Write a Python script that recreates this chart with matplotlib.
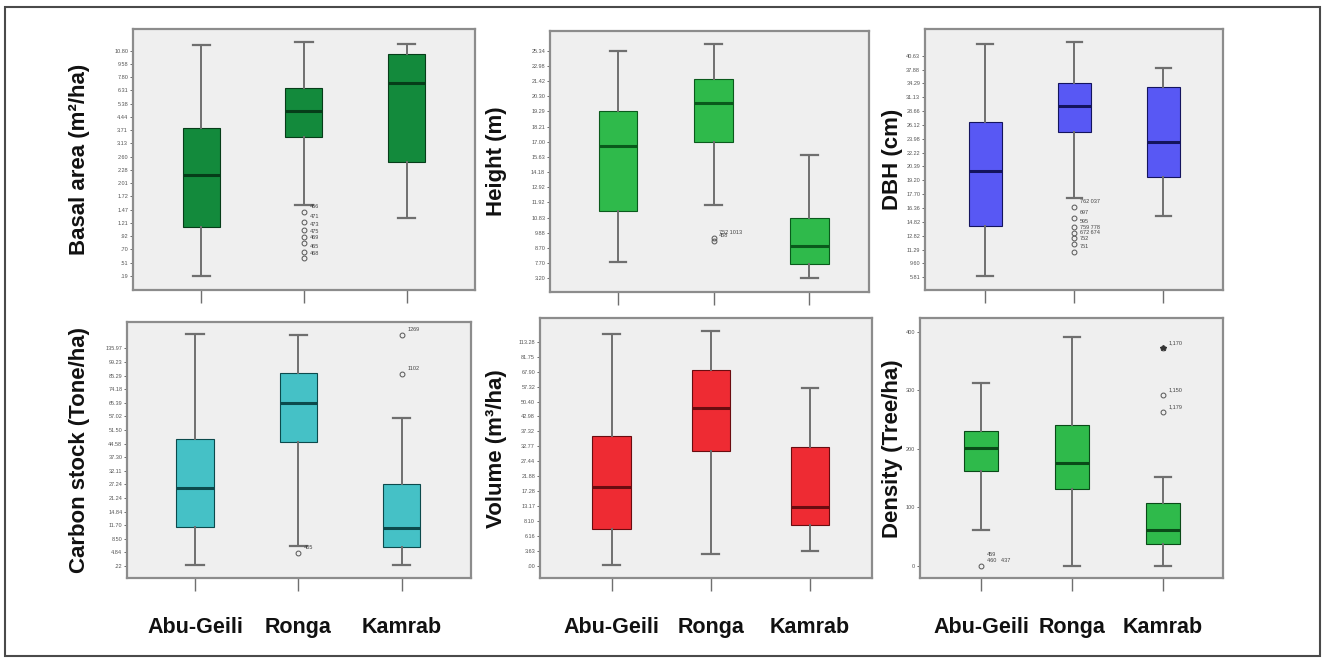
import matplotlib.pyplot as plt
from matplotlib.patches import Rectangle

plt.rcParams['font.family'] = ['Liberation Sans', 'DejaVu Sans']

sites = ["Abu-Geili", "Ronga", "Kamrab"]

# SPSS axes: ticks evenly spaced with irregular labels, so values are given in tick steps
basal_ticks = [".19", ".51", ".70", ".92", "1.21", "1.47", "1.72", "2.01", "2.28",
               "2.60", "3.13", "3.71", "4.44", "5.38", "6.31", "7.80", "9.58", "10.80"]
basal_lo = [0.02, 5.36, 4.40]
basal_q1 = [3.67, 10.51, 8.63]
basal_med = [7.65, 12.45, 14.54]
basal_q3 = [11.19, 14.16, 16.73]
basal_hi = [17.46, 17.68, 17.49]
basal_out = [[], [4.85, 4.10, 3.47, 2.97, 2.47, 1.83, 1.33], []]
basal_out_lab = [[], ["466", "471", "473", "475", "469", "465", "468"], []]

height_ticks = ["3.20", "7.70", "8.70", "9.88", "10.83", "11.92", "12.92", "14.18",
                "15.63", "17.00", "18.21", "19.29", "20.30", "21.42", "22.98", "25.34"]
height_lo = [1.09, 4.83, 0.00]
height_q1 = [4.44, 9.00, 0.96]
height_med = [8.72, 11.54, 2.15]
height_q3 = [11.03, 13.12, 4.00]
height_hi = [14.98, 15.43, 8.13]
height_out = [[], [2.65, 2.45], []]
height_out_lab = [[], ["752 1013", "458"], []]

dbh_ticks = ["5.81", "9.60", "11.29", "12.82", "14.82", "16.36", "17.70", "19.20", "20.39",
             "22.22", "23.98", "26.12", "28.66", "31.13", "34.29", "37.88", "40.63"]
dbh_lo = [0.12, 5.75, 4.43]
dbh_q1 = [3.70, 10.47, 7.26]
dbh_med = [7.68, 12.37, 9.79]
dbh_q3 = [11.19, 14.00, 13.72]
dbh_hi = [16.82, 17.01, 15.09]
dbh_out = [[], [5.10, 4.26, 3.65, 3.18, 2.82, 2.38, 1.85], []]
dbh_out_lab = [[], ["762 037", "697", "595", "759 778", "672 674", "752", "751"], []]

carbon_ticks = [".22", "4.84", "8.50", "11.70", "14.84", "21.24", "27.24", "32.11", "37.30",
                "44.58", "51.50", "57.02", "65.39", "74.18", "85.29", "99.23", "135.97"]
carbon_lo = [0.07, 1.47, 0.07]
carbon_q1 = [2.89, 9.09, 1.37]
carbon_med = [5.71, 11.96, 2.77]
carbon_q3 = [9.34, 14.17, 6.00]
carbon_hi = [17.06, 16.99, 10.90]
carbon_out = [[], [0.98], [16.99, 14.12]]
carbon_out_lab = [[], ["405"], ["1269", "1102"]]

volume_ticks = [".00", "3.63", "6.16", "8.10", "13.17", "17.28", "21.88", "27.44",
                "32.77", "37.32", "42.98", "50.40", "57.32", "67.90", "81.75", "113.28"]
volume_lo = [0.07, 0.78, 1.02]
volume_q1 = [2.45, 7.71, 2.74]
volume_med = [5.30, 10.59, 3.93]
volume_q3 = [8.70, 13.11, 7.94]
volume_hi = [15.52, 15.74, 11.89]

density_ticks = ["0", "100", "200", "300", "400"]
density_lo = [61, 0, 0]
density_q1 = [161, 131, 37]
density_med = [202, 176, 61]
density_q3 = [231, 240, 107]
density_hi = [312, 391, 151]
density_out = [[0], [], [372, 292, 262]]
density_out_lab = [["459\n460   437"], [], ["1,170", "1,150", "1,179"]]


def stats_of(lo, q1, med, q3, hi, out=None):
    rows = []
    for i in range(len(lo)):
        rows.append(dict(whislo=lo[i], q1=q1[i], med=med[i], q3=q3[i], whishi=hi[i],
                         fliers=(out[i] if out else [])))
    return rows


panels = [
    dict(pos=[0.1002, 0.5633, 0.2577, 0.3931], xlim=(0.333, 3.667), ylim=(-1.06, 18.64),
         ticks=basal_ticks, stats=stats_of(basal_lo, basal_q1, basal_med, basal_q3, basal_hi, basal_out),
         labels=basal_out_lab, face="#138a3c", med="#063d19", width=0.36,
         ylabel="Basal area (m²/ha)", labx=-0.126),
    dict(pos=[0.4145, 0.5607, 0.2404, 0.3926], xlim=(0.293, 3.623), ylim=(-0.88, 16.30),
         ticks=height_ticks, stats=stats_of(height_lo, height_q1, height_med, height_q3, height_hi, height_out),
         labels=height_out_lab, face="#2fba4b", med="#0a5a1c", width=0.40,
         ylabel="Height (m)", labx=-0.135),
    dict(pos=[0.6971, 0.5633, 0.2248, 0.3931], xlim=(0.327, 3.673), ylim=(-0.92, 17.93),
         ticks=dbh_ticks, stats=stats_of(dbh_lo, dbh_q1, dbh_med, dbh_q3, dbh_hi, dbh_out),
         labels=dbh_out_lab, face="#5858f4", med="#14145e", width=0.37,
         ylabel="DBH (cm)", labx=-0.074),
    dict(pos=[0.0959, 0.1291, 0.2588, 0.3864], xlim=(0.345, 3.668), ylim=(-0.90, 17.96),
         ticks=carbon_ticks, stats=stats_of(carbon_lo, carbon_q1, carbon_med, carbon_q3, carbon_hi, carbon_out),
         labels=carbon_out_lab, face="#45c1c6", med="#0c4a4c", width=0.36,
         ylabel="Carbon stock (Tone/ha)", labx=-0.108),
    dict(pos=[0.4069, 0.1291, 0.2500, 0.3916], xlim=(0.277, 3.622), ylim=(-0.82, 16.57),
         ticks=volume_ticks, stats=stats_of(volume_lo, volume_q1, volume_med, volume_q3, volume_hi),
         labels=[[], [], []], face="#ee2b33", med="#6a0c10", width=0.39,
         ylabel="Volume (m³/ha)", labx=-0.100),
    dict(pos=[0.6933, 0.1291, 0.2286, 0.3916], xlim=(0.328, 3.664), ylim=(-21.5, 422.9),
         ticks=density_ticks, stats=stats_of(density_lo, density_q1, density_med, density_q3, density_hi, density_out),
         labels=density_out_lab, face="#2fba4b", med="#0a4a18", width=0.37,
         ylabel="Density (Tree/ha)", labx=-0.056),
]

fig = plt.figure(figsize=(13.27, 6.64), dpi=100)
fig.patches.append(Rectangle((0.004, 0.012), 0.991, 0.978, transform=fig.transFigure,
                             fill=False, edgecolor="#4a4a4a", linewidth=1.5))

for k, p in enumerate(panels):
    ax = fig.add_axes(p["pos"])
    ax.set_facecolor("#efefef")
    ax.bxp(p["stats"], positions=[1, 2, 3], widths=p["width"], patch_artist=True,
           capwidths=0.17,
           boxprops=dict(facecolor=p["face"], edgecolor=p["med"], linewidth=0.8),
           medianprops=dict(color=p["med"], linewidth=2.2),
           whiskerprops=dict(color="#6f6f6f", linewidth=1.4),
           capprops=dict(color="#6f6f6f", linewidth=1.6),
           flierprops=dict(marker="o", markersize=3.5, markerfacecolor="none",
                           markeredgecolor="#555555", markeredgewidth=0.7))
    # outlier case labels
    for i, labs in enumerate(p["labels"]):
        for v, lab in zip(p["stats"][i]["fliers"], labs):
            ax.annotate(lab, (i + 1, v), xytext=(4, 2), textcoords="offset points",
                        fontsize=4, color="#444444", ha="left", va="bottom")
    if k == 5:
        # extreme value shown as star in SPSS
        ax.plot([3], [density_out[2][0]], marker="*", color="#333333", markersize=4, linestyle="none")
    ax.set_xlim(*p["xlim"])
    ax.set_ylim(*p["ylim"])
    if k == 5:
        ax.set_yticks([0, 100, 200, 300, 400])
    else:
        ax.set_yticks(range(len(p["ticks"])))
    ax.set_yticklabels(p["ticks"])
    ax.tick_params(axis="y", labelsize=4, length=2.5, width=0.6, colors="#555555", pad=1)
    ax.set_xticks([1, 2, 3])
    if k >= 3:
        ax.set_xticklabels(sites, fontsize=15.5, fontweight="bold")
    else:
        ax.set_xticklabels(["", "", ""])
    ax.tick_params(axis="x", length=9, width=1.0, color="#6f6f6f", pad=19, labelcolor="#111111")
    for s in ax.spines.values():
        s.set_color("#8c8c8c")
        s.set_linewidth(1.6)
    ax.set_ylabel(p["ylabel"], fontsize=16, fontweight="bold", color="#111111")
    ax.yaxis.set_label_coords(p["labx"], 0.5)

plt.savefig("out.png", dpi=100)
plt.close()
